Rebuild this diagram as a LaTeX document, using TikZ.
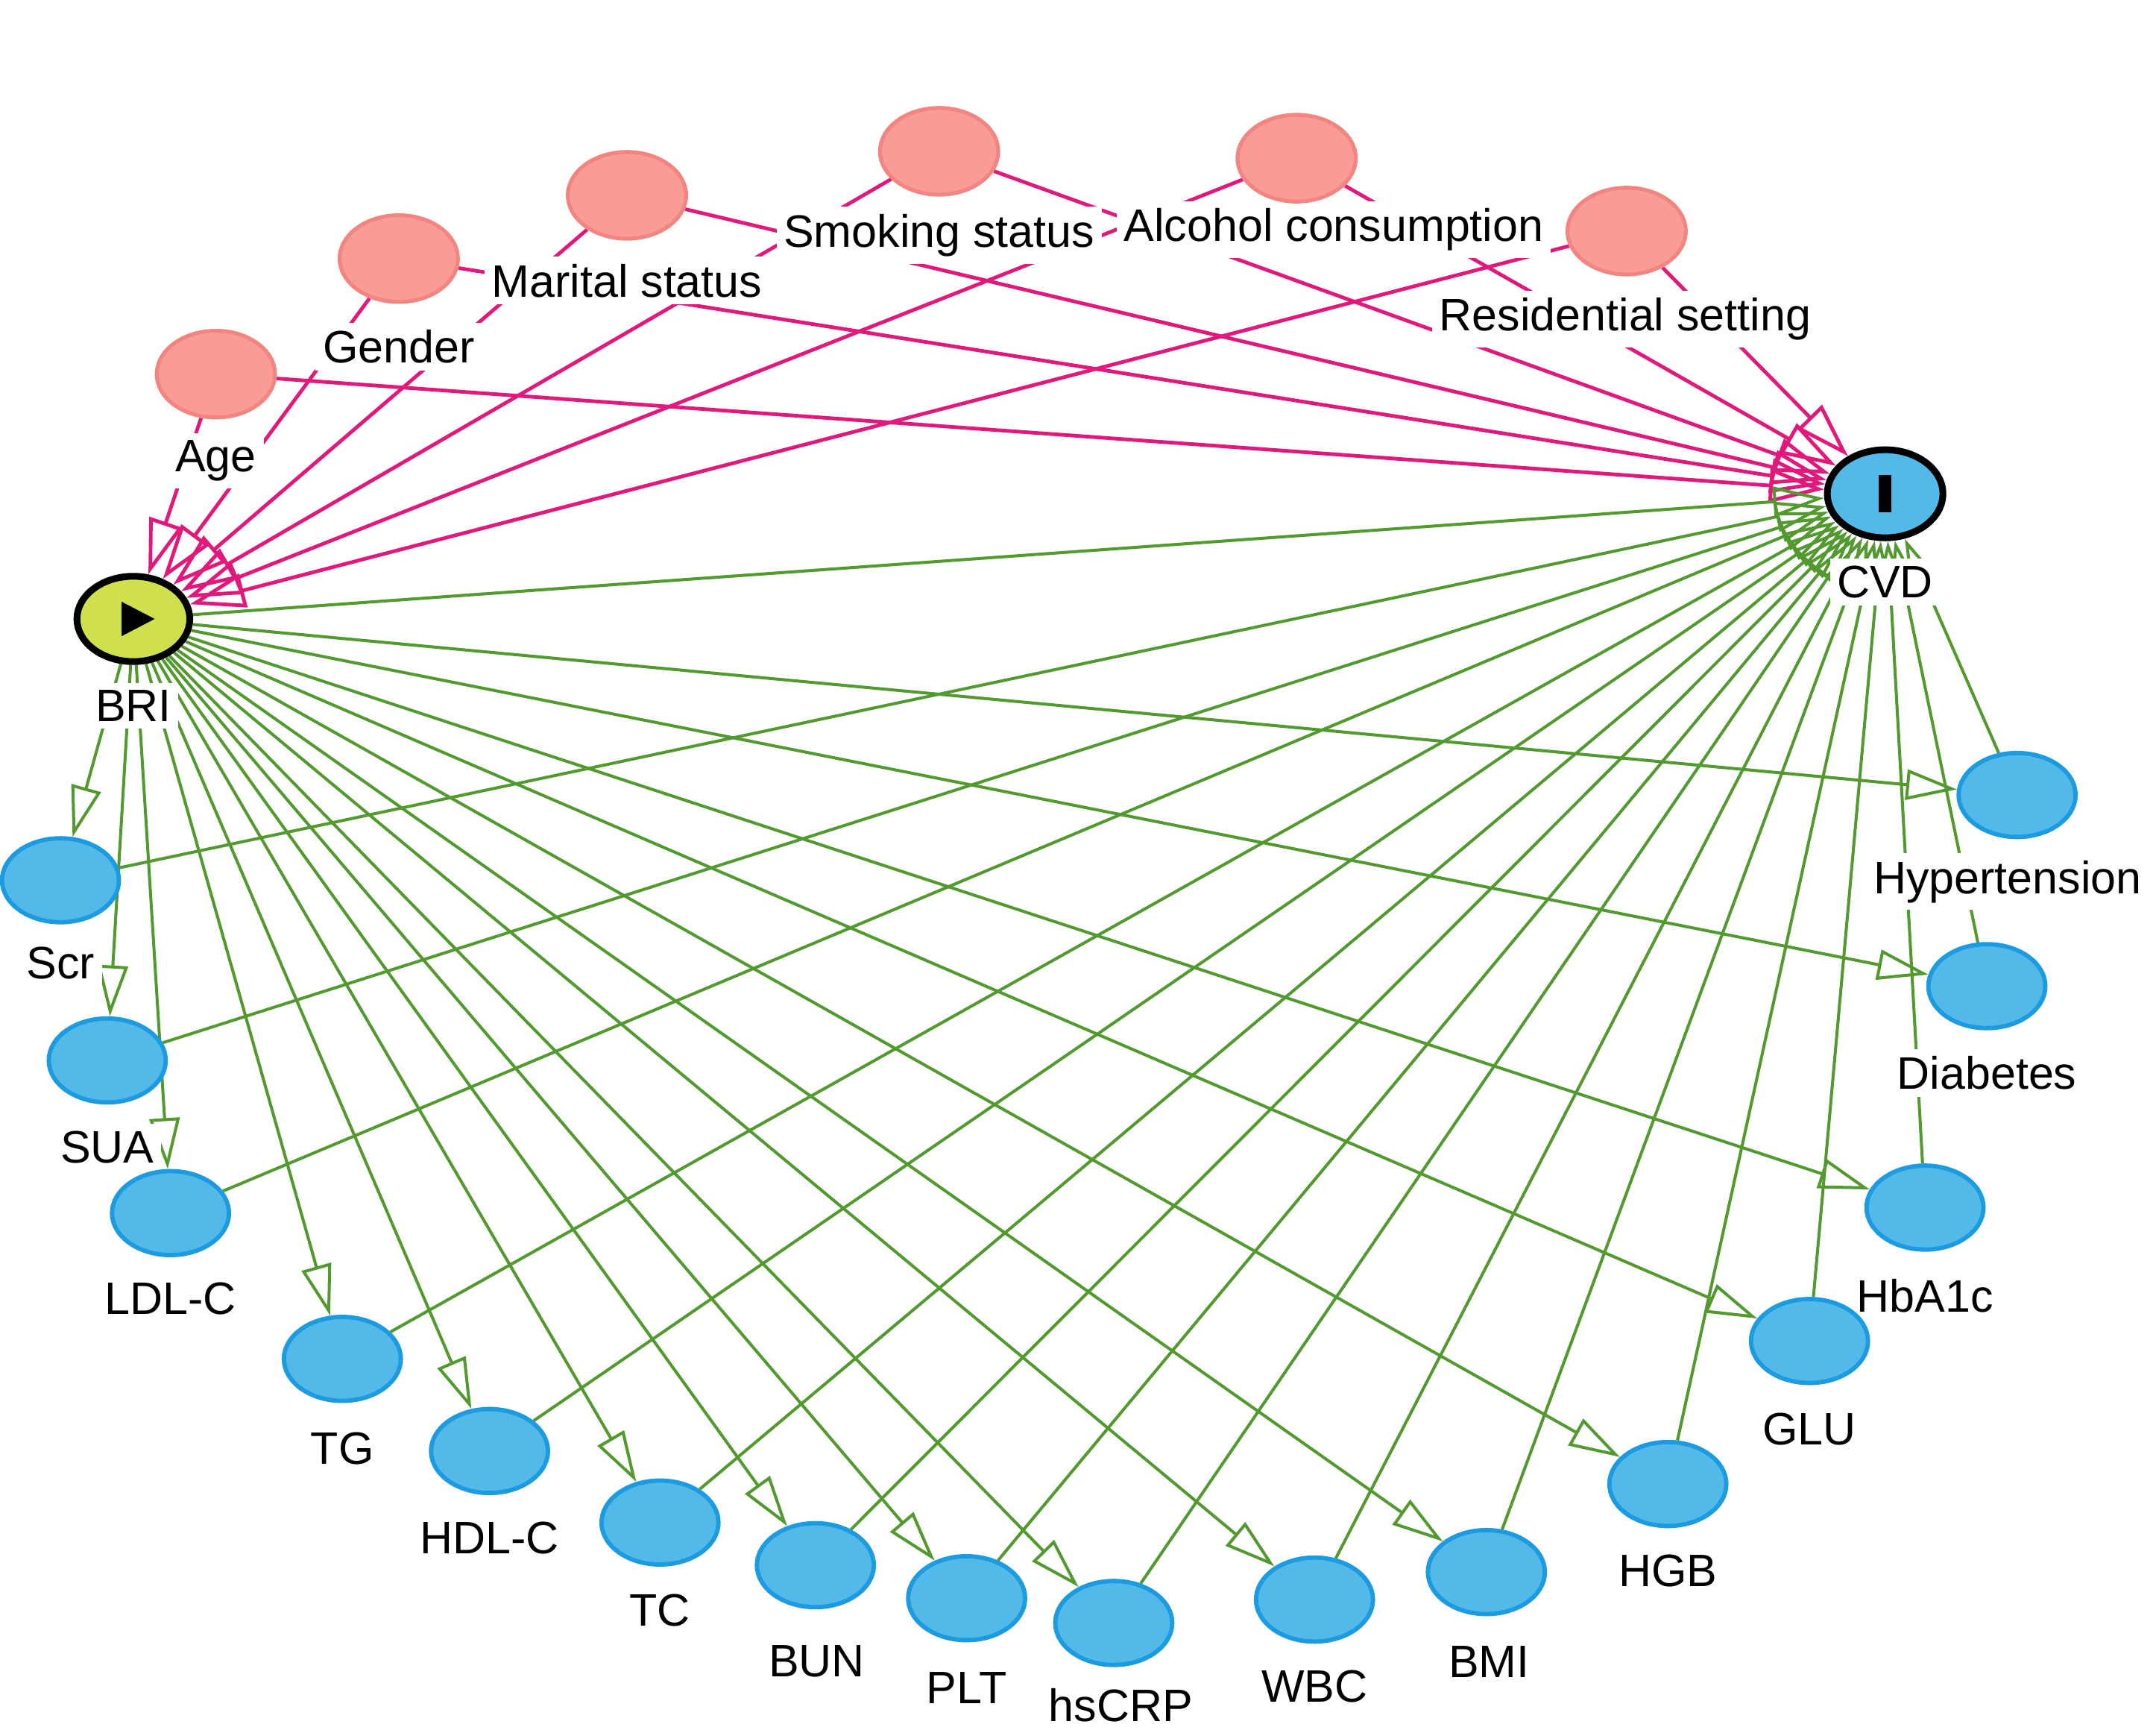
\documentclass[tikz,border=0pt]{standalone}
\usepackage{fontspec}
\setmainfont{Liberation Sans}
\usetikzlibrary{shapes.geometric,arrows.meta,calc}
\pgfdeclarelayer{edgelayer}
\pgfdeclarelayer{labellayer}
\pgfsetlayers{edgelayer,labellayer,main}
\definecolor{pinkfill}{HTML}{F99B97}
\definecolor{pinkline}{HTML}{F38580}
\definecolor{edgepink}{HTML}{E0197A}
\definecolor{bluefill}{HTML}{52B9E8}
\definecolor{blueline}{HTML}{1C9BE0}
\definecolor{brifill}{HTML}{D0E04C}
\definecolor{edgegreen}{HTML}{529A30}
\tikzset{
  conf/.style={ellipse, draw=pinkline, fill=pinkfill, line width=0.8pt, minimum width=0.86cm, minimum height=0.63cm, inner sep=0pt},
  med/.style={ellipse, draw=blueline, fill=bluefill, line width=0.9pt, minimum width=0.85cm, minimum height=0.61cm, inner sep=0pt},
  expo/.style={ellipse, draw=black, fill=brifill, line width=1.4pt, minimum width=0.82cm, minimum height=0.62cm, inner sep=0pt},
  outc/.style={ellipse, draw=black, fill=bluefill, line width=1.4pt, minimum width=0.84cm, minimum height=0.64cm, inner sep=0pt},
  lbl/.style={fill=white, inner sep=1.5pt, font=\fontsize{9.4}{11}\selectfont},
  pinkarr/.style={draw=edgepink, line width=0.75pt, -{Triangle[open,length=0.40cm,width=0.25cm]}},
  greenarr/.style={draw=edgegreen, line width=0.62pt, -{Triangle[open,length=0.37cm,width=0.22cm]}}
}
\begin{document}
\begin{tikzpicture}[x=0.01cm,y=-0.01cm]
\useasboundingbox (0,0) rectangle (1568,1262);
% confounders
\node[conf] (age) at (157,272) {};
\node[conf] (gender) at (290,188) {};
\node[conf] (marital) at (456,142) {};
\node[conf] (smoking) at (683,110) {};
\node[conf] (alcohol) at (943,115) {};
\node[conf] (resid) at (1183,168) {};
% exposure and outcome
\node[expo] (bri) at (97,450) {};
\node[outc] (cvd) at (1371,359) {};
% mediators
\node[med] (scr) at (44,640) {};
\node[med] (sua) at (78,771) {};
\node[med] (ldl) at (124,882) {};
\node[med] (tg) at (249,988) {};
\node[med] (hdl) at (356,1055) {};
\node[med] (tc) at (480,1107) {};
\node[med] (bun) at (593,1138) {};
\node[med] (plt) at (703,1162) {};
\node[med] (crp) at (810,1180) {};
\node[med] (wbc) at (956,1163) {};
\node[med] (bmi) at (1081,1143) {};
\node[med] (hgb) at (1213,1079) {};
\node[med] (glu) at (1316,975) {};
\node[med] (hba) at (1400,878) {};
\node[med] (dia) at (1445,717) {};
\node[med] (hyp) at (1467,578) {};
% icons
\fill[black] ($(bri.center)+(-8.5,-12.5)$) -- ++(24,12.5) -- ++(-24,12.5) -- cycle;
\fill[black] ($(cvd.center)+(-4.5,-13.5)$) rectangle ++(9,27);
% edges
\begin{pgfonlayer}{edgelayer}
\foreach \c in {age,gender,marital,smoking,alcohol,resid}{
  \draw[pinkarr] (\c) -- (bri);
  \draw[pinkarr] (\c) -- (cvd);
}
\draw[greenarr] (bri) -- (cvd);
\foreach \m in {scr,sua,ldl,tg,hdl,tc,bun,plt,crp,wbc,bmi,hgb,glu,hba,dia,hyp}{
  \draw[greenarr] (bri) -- (\m);
  \draw[greenarr] (\m) -- (cvd);
}
\end{pgfonlayer}
% labels
\begin{pgfonlayer}{labellayer}
\node[lbl] (agel) at (157,335) {Age};
\node[lbl] (genderl) at (290,252) {Gender};
\node[lbl] (maritall) at (456,204) {Marital status};
\node[lbl] (smokingl) at (683,171) {Smoking status};
\node[lbl] (alcoholl) at (970,167) {Alcohol consumption};
\node[lbl] (residl) at (1182,232) {Residential setting};
\node[lbl] (bril) at (97,513) {BRI};
\node[lbl] (cvdl) at (1371,423) {CVD};
\node[lbl] (scrl) at (44,700) {Scr};
\node[lbl] (sual) at (78,834) {SUA};
\node[lbl] (ldll) at (124,944) {LDL-C};
\node[lbl] (tgl) at (249,1053) {TG};
\node[lbl] (hdll) at (356,1118) {HDL-C};
\node[lbl] (tcl) at (480,1171) {TC};
\node[lbl] (bunl) at (594,1208) {BUN};
\node[lbl] (pltl) at (703,1227) {PLT};
\node[lbl] (crpl) at (815,1240) {hsCRP};
\node[lbl] (wbcl) at (956,1226) {WBC};
\node[lbl] (bmil) at (1083,1208) {BMI};
\node[lbl] (hgbl) at (1213,1142) {HGB};
\node[lbl] (glul) at (1316,1039) {GLU};
\node[lbl] (hbal) at (1400,942) {HbA1c};
\node[lbl] (dial) at (1445,780) {Diabetes};
\node[lbl] (hypl) at (1460,641) {Hypertension};
\end{pgfonlayer}
\end{tikzpicture}
\end{document}
